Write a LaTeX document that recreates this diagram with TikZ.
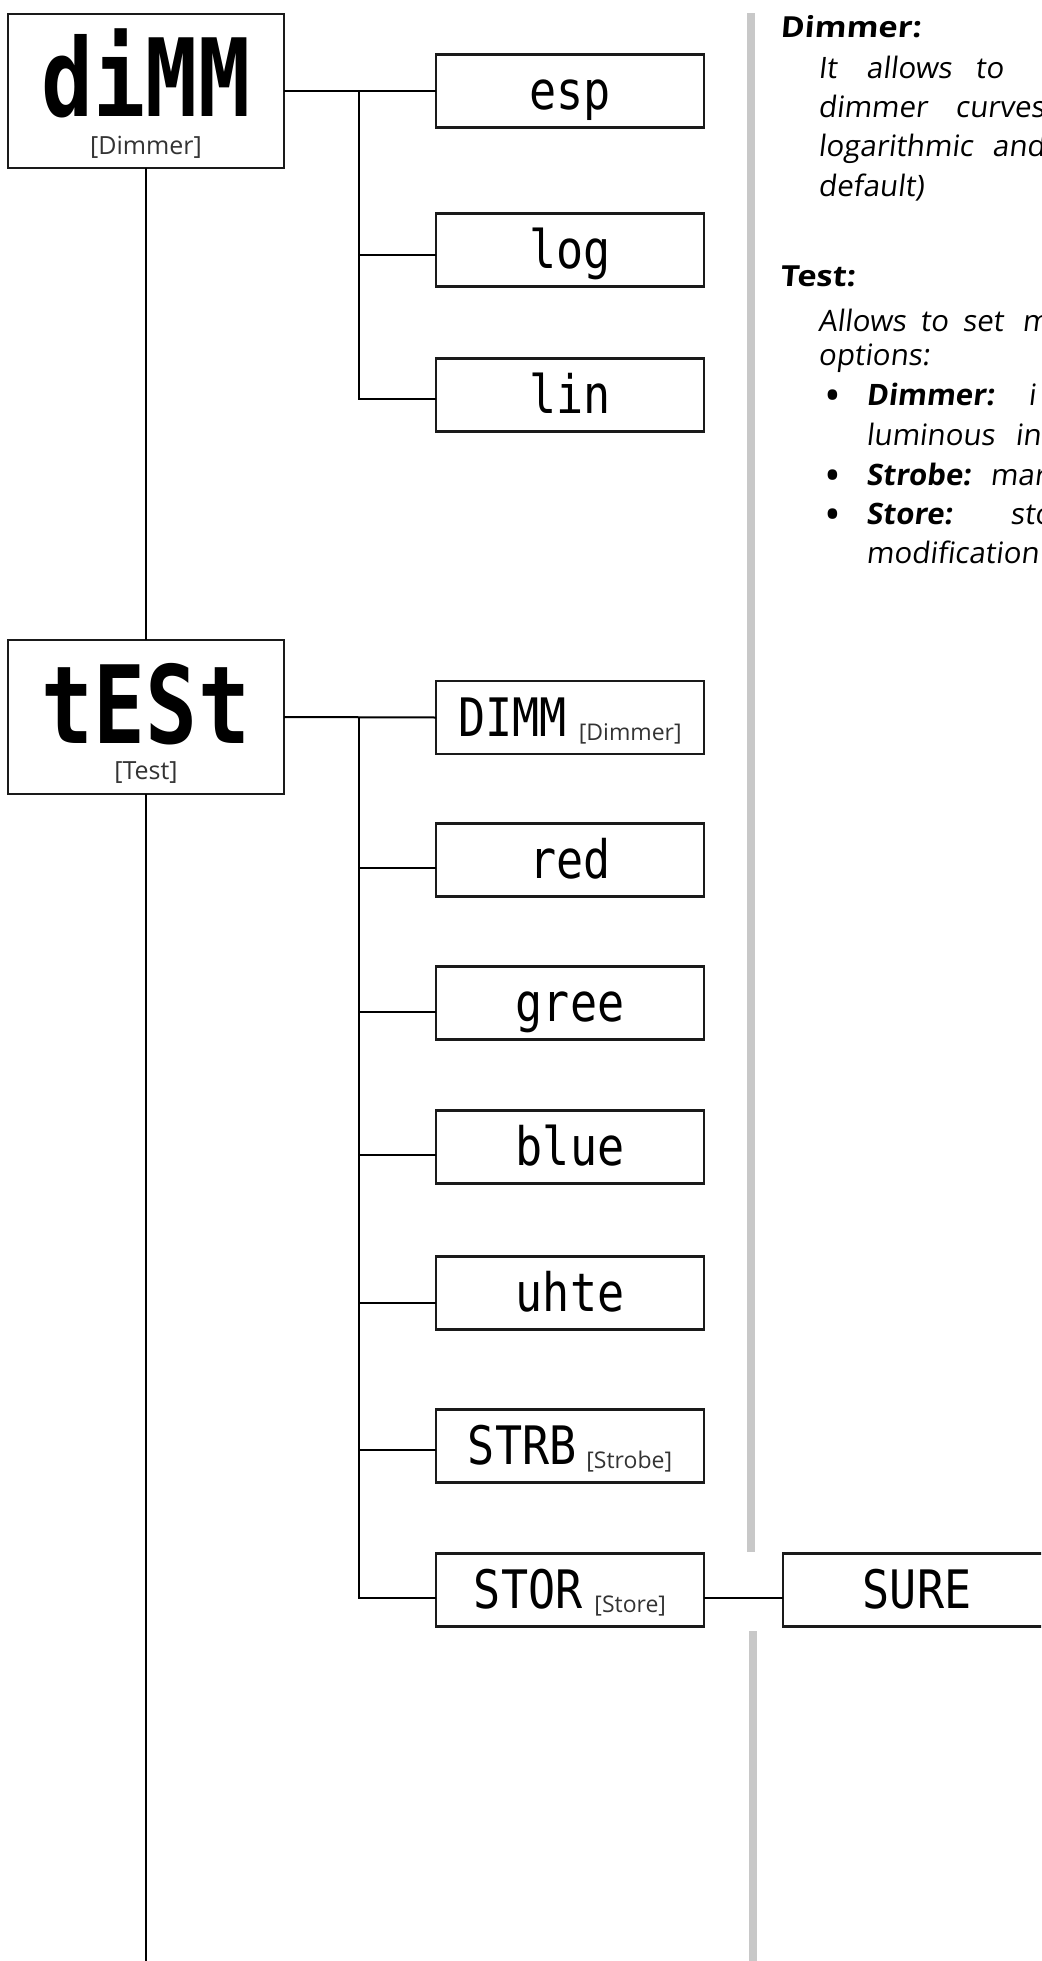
\documentclass[tikz,border=0pt]{standalone}
\usepackage{fontspec}
\usetikzlibrary{calc}
\newfontfamily\lcdfontbig[FakeStretch=0.8]{DejaVu Sans Mono Bold}
\newfontfamily\lcdfontsmall[FakeStretch=0.85]{DejaVu Sans Mono}
\newfontfamily\labfont{Open Sans}
\newfontfamily\panelfont[FakeSlant=0.12]{Open Sans}
\newfontfamily\headfont[FakeSlant=0.08,FakeStretch=1.12]{Open Sans}
\definecolor{barcol}{HTML}{C8C8C8}
\definecolor{boxcol}{HTML}{1A1A1A}
\definecolor{labcol}{HTML}{333333}
\tikzset{
  mainbox/.style={draw=boxcol, line width=2.6pt, minimum width=276pt, minimum height=154pt, inner sep=0pt, outer sep=0pt},
  subbox/.style={draw=boxcol, line width=2.4pt, minimum width=268pt, minimum height=73pt, inner sep=0pt, outer sep=0pt},
  conn/.style={draw=black, line width=2pt},
  biglcd/.style={font=\fontsize{108}{108}\lcdfontbig, inner sep=0pt, anchor=base},
  smalllcd/.style={font=\fontsize{53}{53}\lcdfontsmall, inner sep=0pt, anchor=base},
  biglab/.style={font=\fontsize{25}{25}\labfont, text=labcol, inner sep=0pt, anchor=base},
  head/.style={font=\fontsize{29}{29}\headfont\bfseries, inner sep=0pt, anchor=base west},
  body/.style={font=\fontsize{29.5}{29.5}\panelfont, inner sep=0pt, anchor=base west},
  bodybold/.style={font=\fontsize{29.5}{29.5}\panelfont\bfseries, inner sep=0pt, anchor=base west},
  bulletmark/.style={font=\fontsize{34}{34}\labfont\bfseries, inner sep=0pt, anchor=base west},
}
\newcommand{\smlab}[1]{\raisebox{-4pt}{\fontsize{23}{23}\labfont\color{labcol}#1}}
\begin{document}
\begin{tikzpicture}[x=1pt,y=-1pt]
\useasboundingbox (0,0) rectangle (1041,1961);
\clip (0,0) rectangle (1041,1961);
% gray bar
\fill[barcol] (747,13) rectangle (755,1552);
\fill[barcol] (749,1631) rectangle (757,1961);
% main boxes
\node[mainbox] (dimm) at (146,91) {};
\node[biglcd] (dimmtxt) at (146,117) {diMM};
\node[biglab] (dimmlab) at (146,155) {[Dimmer]};
\node[mainbox] (test) at (146,717) {};
\node[biglcd] (testtxt) at (146,743) {tESt};
\node[biglab] (testlab) at (146,779) {[Test]};
% sub boxes
\node[subbox] (esp) at (570,91) {};
\node[subbox] (log) at (570,250) {};
\node[subbox] (lin) at (570,395) {};
\node[subbox] (sdimm) at (570,717.5) {};
\node[subbox] (red) at (570,860) {};
\node[subbox] (gree) at (570,1003) {};
\node[subbox] (blue) at (570,1147) {};
\node[subbox] (uhte) at (570,1293) {};
\node[subbox] (strb) at (570,1446) {};
\node[subbox] (stor) at (570,1590) {};
\node[subbox] (sure) at (917,1590) {};
\node[smalllcd] (esptxt) at ($(esp.south)+(0,-18)$) {esp};
\node[smalllcd] (logtxt) at ($(log.south)+(0,-18)$) {log};
\node[smalllcd] (lintxt) at ($(lin.south)+(0,-18)$) {lin};
\node[smalllcd] (sdimmtxt) at ($(sdimm.south)+(0,-18)$) {DIMM\hspace{12pt}\smlab{[Dimmer]}};
\node[smalllcd] (redtxt) at ($(red.south)+(0,-18)$) {red};
\node[smalllcd] (greetxt) at ($(gree.south)+(0,-18)$) {gree};
\node[smalllcd] (bluetxt) at ($(blue.south)+(0,-18)$) {blue};
\node[smalllcd] (uhtetxt) at ($(uhte.south)+(0,-18)$) {uhte};
\node[smalllcd] (strbtxt) at ($(strb.south)+(0,-18)$) {STRB\hspace{10pt}\smlab{[Strobe]}};
\node[smalllcd] (stortxt) at ($(stor.south)+(0,-18)$) {STOR\hspace{12pt}\smlab{[Store]}};
\node[smalllcd] (suretxt) at ($(sure.south)+(0,-18)$) {SURE};
% connectors
\coordinate (bottomend) at (146,1961);
\draw[conn] (dimm.south) -- (test.north);
\draw[conn] (test.south) -- (bottomend);
\coordinate (b1) at (359,91);
\coordinate (logc) at ($(log.west)+(0,5)$);
\coordinate (linc) at ($(lin.west)+(0,4)$);
\draw[conn] (dimm.east) -- (esp.west);
\draw[conn] (b1) |- (linc);
\draw[conn] (b1 |- logc) -- (logc);
\coordinate (b2) at (359,717.5);
\coordinate (redc) at ($(red.west)+(0,8)$);
\coordinate (greec) at ($(gree.west)+(0,9)$);
\coordinate (bluec) at ($(blue.west)+(0,8)$);
\coordinate (uhtec) at ($(uhte.west)+(0,10)$);
\coordinate (strbc) at ($(strb.west)+(0,4)$);
\coordinate (storc) at ($(stor.west)+(0,8)$);
\draw[conn] (test.east) -- (sdimm.west);
\draw[conn] (b2) |- (storc);
\draw[conn] (b2 |- redc) -- (redc);
\draw[conn] (b2 |- greec) -- (greec);
\draw[conn] (b2 |- bluec) -- (bluec);
\draw[conn] (b2 |- uhtec) -- (uhtec);
\draw[conn] (b2 |- strbc) -- (strbc);
\draw[conn] (stor.east |- storc) -- (sure.west |- storc);
% text panel
\node[head] (h1) at (780,38) {Dimmer:};
\node[body] (l1a) at (818,79) {It};
\node[body] (l1b) at (866,79) {allows};
\node[body] (l1c) at (975,79) {to};
\node[body] (l2a) at (818,118) {dimmer};
\node[body] (l2b) at (955,118) {curves};
\node[body] (l3a) at (818,157) {logarithmic};
\node[body] (l3b) at (992,157) {and};
\node[body] (l4) at (818,197) {default)};
\node[head] (h2) at (780,286) {Test:};
\node[body] (l5a) at (818,331) {Allows\hspace{14pt}to\hspace{14pt}set};
\node[body] (l5b) at (1022,331) {m};
\node[body] (l6) at (818,365) {options:};
\node[bulletmark] (bu1) at (826,407) {•};
\node[bodybold] (l7a) at (866,405) {Dimmer:};
\node[body] (l7b) at (1028,405) {i};
\node[body] (l8a) at (866,445) {luminous};
\node[body] (l8b) at (1015,445) {in};
\node[bulletmark] (bu2) at (826,487) {•};
\node[bodybold] (l9a) at (866,485) {Strobe:};
\node[body] (l9b) at (990,485) {mar};
\node[bulletmark] (bu3) at (826,526) {•};
\node[bodybold] (l10a) at (866,524) {Store:};
\node[body] (l10b) at (1010,524) {sto};
\node[body] (l11) at (866,563) {modification};
\end{tikzpicture}
\end{document}
